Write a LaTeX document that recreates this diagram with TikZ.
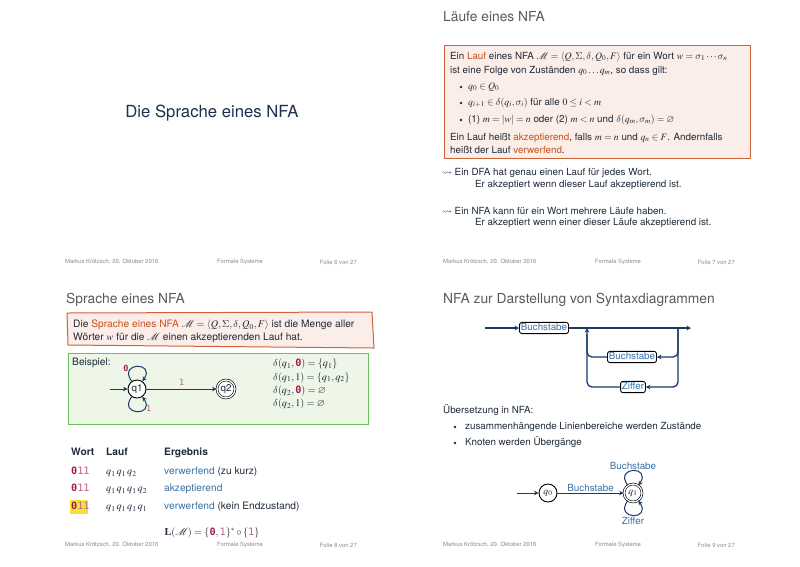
\documentclass[tikz,border=0pt]{standalone}
\usepackage{amsmath,amssymb}
\usepackage{mathptmx}
\usepackage{fontspec}
\setmainfont{TeX Gyre Heros}
\newfontfamily\codefont{DejaVu Sans Mono}
\usetikzlibrary{arrows.meta, positioning, calc}

\DeclareSymbolFont{cmletters}{OML}{cmm}{m}{it}
\DeclareSymbolFont{cmops}{OT1}{cmr}{m}{n}
\DeclareMathSymbol{\delta}{\mathord}{cmletters}{"0E}
\DeclareMathSymbol{\sigma}{\mathord}{cmletters}{"1B}
\DeclareMathSymbol{\Sigma}{\mathalpha}{cmops}{"06}

\definecolor{titlegray}{HTML}{5A5A5A}
\definecolor{navy}{HTML}{1B2F4F}
\definecolor{bodytxt}{HTML}{1E2A3A}
\definecolor{hlorange}{HTML}{C4511F}
\definecolor{boxred}{HTML}{D0623A}
\definecolor{boxfill}{HTML}{FBEDE7}
\definecolor{exgreen}{HTML}{6CBF5A}
\definecolor{exfill}{HTML}{EEF6E8}
\definecolor{linkblue}{HTML}{3A72A8}
\definecolor{symb}{HTML}{A0195A}
\definecolor{symblt}{HTML}{C06088}
\definecolor{footgray}{HTML}{8A8A8A}
\definecolor{lineblue}{HTML}{1A3A68}
\definecolor{marker}{HTML}{F2E33A}

\newcommand{\hlt}[1]{\textcolor{hlorange}{#1}}
\newcommand{\lnk}[1]{\textcolor{linkblue}{#1}}
\newcommand{\zsym}{\text{\codefont\bfseries\textcolor{symb}{0}}}
\newcommand{\osym}{\text{\codefont\textcolor{symblt}{1}}}
\newcommand{\wrd}{{\codefont\textcolor{symb}{\bfseries 0}\textcolor{symblt}{11}}}

\begin{document}
\begin{tikzpicture}[x=1pt, y=1pt,
    body/.style={anchor=west, inner sep=0pt, text=bodytxt, text height=7.3pt, text depth=2.3pt,
                 font=\fontsize{9.8}{12}\selectfont},
    bodyC/.style={body, text height=7.6pt, text depth=2.4pt, font=\fontsize{10.2}{12}\selectfont},
    ttl/.style={anchor=west, inner sep=0pt, text=titlegray, font=\fontsize{13.8}{16}\selectfont},
    foot/.style={inner sep=0pt, text=footgray, font=\fontsize{5.9}{7}\selectfont},
    lbl/.style={inner sep=1pt, text=linkblue, font=\fontsize{9.8}{12}\selectfont},
    sym/.style={inner sep=0pt, font=\fontsize{8.5}{9}\codefont, text=symblt},
    st/.style={circle, draw=black, line width=0.9pt, minimum size=18pt, inner sep=0pt, fill=white,
               text=bodytxt, font=\fontsize{9.8}{12}\selectfont},
    acc/.style={st, double=white, double distance=1.3pt, line width=0.6pt},
    arr/.style={-{Stealth[length=4.5pt, width=4.5pt]}, line width=1pt, lineblue},
    syn/.style={line width=1.3pt, lineblue, rounded corners=5pt},
    chip/.style={draw=black, line width=0.9pt, rounded corners=2.5pt, fill=white, text=linkblue,
                 inner sep=1.4pt, text height=7pt, text depth=1.5pt, font=\fontsize{9.8}{12}\selectfont},
  ]
  \useasboundingbox[fill=white] (0,0) rectangle (800,-566);

  \node[inner sep=0pt, text=navy, font=\fontsize{16.7}{20}\selectfont] (tA) at (212,-113) {Die Sprache eines NFA};
  \foreach \sx/\sy/\n in {0/262/6, 378/262/7, 0/545/8, 378/545/9}{
    \node[foot, anchor=west] (fa\n) at (65+\sx,-\sy) {Markus Krötzsch, 20. Oktober 2016};
    \node[foot] (fb\n) at (240+\sx,-\sy) {Formale Systeme};
    \node[foot, anchor=east] (fc\n) at (357+\sx,-\sy) {Folie \n\ von 27};
  }

  \node[ttl] (tB) at (443,-17) {Läufe eines NFA};
  \draw[boxred, fill=boxfill, line width=1pt] (444,-45) rectangle (750,-158);
  \node[body] (lB1) at (450,-57) {Ein \hlt{Lauf} eines NFA $\mathcal{M}=\langle Q,\Sigma,\delta,Q_0,F\rangle$ für ein Wort $w=\sigma_1\cdots\sigma_n$};
  \node[body] (lB2) at (450,-71) {ist eine Folge von Zuständen $q_0\ldots q_m$, so dass gilt:};
  \foreach \y/\t [count=\i] in {87/{$q_0\in Q_0$},
      103/{$q_{i+1}\in\delta(q_i,\sigma_i)$ für alle $0\le i<m$},
      120/{(1) $m=|w|=n$ oder (2) $m<n$ und $\delta(q_m,\sigma_m)=\varnothing$}}{
    \fill[bodytxt] (461,-\y) circle (1.4);
    \node[body] (iB\i) at (468,-\y) {\t};
  }
  \node[body] (lB3) at (450,-138) {Ein Lauf heißt \hlt{akzeptierend}, falls $m=n$ und $q_n\in F$. Andernfalls};
  \node[body] (lB4) at (450,-151) {heißt der Lauf \hlt{verwerfend}.};
  \node[body] (dB1) at (442,-173) {$\leadsto$ Ein DFA hat genau einen Lauf für jedes Wort.};
  \node[body] (dB2) at (475,-185) {Er akzeptiert wenn dieser Lauf akzeptierend ist.};
  \node[body] (dB3) at (442,-212) {$\leadsto$ Ein NFA kann für ein Wort mehrere Läufe haben.};
  \node[body] (dB4) at (475,-223) {Er akzeptiert wenn einer dieser Läufe akzeptierend ist.};

  \node[ttl] (tC) at (66,-300) {Sprache eines NFA};
  \draw[boxred, fill=boxfill, line width=1pt] (67,-313) -- (372,-312) -- (374,-348) -- (68,-345) -- cycle;
  \node[bodyC] (lC1) at (73,-325) {Die \hlt{Sprache eines NFA} $\mathcal{M}=\langle Q,\Sigma,\delta,Q_0,F\rangle$ ist die Menge aller};
  \node[bodyC] (lC2) at (73,-338) {Wörter $w$ für die $\mathcal{M}$ einen akzeptierenden Lauf hat.};
  \draw[exgreen, fill=exfill, line width=1pt] (68,-353) rectangle (368,-424);
  \node[bodyC] (bsp) at (72,-363) {Beispiel:};
  \coordinate (iC) at (110,-389);
  \node[st] (q1) at (137,-389) {q1};
  \node[acc] (q2) at (226,-389) {q2};
  \draw[arr] (iC) -- (q1);
  \draw[arr] (q1) -- (q2) node[sym, midway, above=3pt] {1};
  \draw[arr] (q1.125) .. controls +(125:24) and +(55:24) .. (q1.55)
    node[sym, pos=0.3, left=1.5pt, font=\fontsize{8.5}{9}\codefont\bfseries, text=symb] {0};
  \draw[arr] (q1.-125) .. controls +(-125:24) and +(-55:24) .. (q1.-55)
    node[sym, pos=0.72, right=1.5pt] {1};
  \foreach \y/\t [count=\i] in {364/{$\delta(q_1,\zsym)=\{q_1\}$}, 377.5/{$\delta(q_1,1)=\{q_1,q_2\}$},
      391/{$\delta(q_2,\zsym)=\varnothing$}, 404/{$\delta(q_2,1)=\varnothing$}}{
    \node[bodyC] (dl\i) at (273,-\y) {\t};
  }
  \node[bodyC, font=\fontsize{10.2}{12}\selectfont\bfseries] (hW) at (71,-453) {Wort};
  \node[bodyC, font=\fontsize{10.2}{12}\selectfont\bfseries] (hL) at (106,-453) {Lauf};
  \node[bodyC, font=\fontsize{10.2}{12}\selectfont\bfseries] (hE) at (164,-453) {Ergebnis};
  \fill[marker] (70,-500) rectangle (88,-514);
  \foreach \y/\r/\e [count=\i] in {472/{$q_1\,q_1\,q_2$}/{\lnk{verwerfend} (zu kurz)},
      489/{$q_1\,q_1\,q_1\,q_2$}/{\lnk{akzeptierend}},
      507/{$q_1\,q_1\,q_1\,q_1$}/{\lnk{verwerfend} (kein Endzustand)}}{
    \node[bodyC] (w\i) at (71,-\y) {\wrd};
    \node[bodyC] (r\i) at (106,-\y) {\r};
    \node[bodyC] (e\i) at (164,-\y) {\e};
  }
  \node[inner sep=0pt, text=bodytxt, font=\fontsize{10.2}{12}\selectfont] (lang) at (212,-533)
    {$\mathbf{L}(\mathcal{M})=\{\zsym,\osym\}^*\circ\{\osym\}$};

  \node[ttl] (tD) at (443,-300) {NFA zur Darstellung von Syntaxdiagrammen};
  \coordinate (sIn) at (485,-328);
  \coordinate (sOut) at (691,-328);
  \coordinate (jl) at (587,-328);
  \coordinate (jr) at (678,-328);
  \node[chip] (sb1) at (544,-328) {Buchstabe};
  \node[chip] (sb2) at (632,-357) {Buchstabe};
  \node[chip] (sz) at (633,-387) {Ziffer};
  \draw[syn, -{Stealth[length=4.5pt, width=4.5pt]}] (sIn) -- (sb1);
  \draw[syn, -{Stealth[length=4.5pt, width=4.5pt]}] (sb1) -- (sOut);
  \draw[syn, -{Stealth[length=4.5pt, width=4.5pt]}] (jr) -- (jr |- sz) -- (sz.east);
  \draw[syn, -{Stealth[length=4.5pt, width=4.5pt]}] (jr) -- (jr |- sb2) -- (sb2.east);
  \draw[syn] (sb2.west) -- (jl |- sb2) -- ($(jl)+(0,-6)$);
  \draw[syn, -{Stealth[length=4.5pt, width=4.5pt]}] (sz.west) -- (jl |- sz) -- (jl);

  \node[body] (ueb) at (443,-411) {Übersetzung in NFA:};
  \foreach \y/\t [count=\i] in {427/{zusammenhängende Linienbereiche werden Zustände}, 443/{Knoten werden Übergänge}}{
    \fill[bodytxt] (455,-\y) circle (1.4);
    \node[body] (iD\i) at (465,-\y) {\t};
  }
  \coordinate (iD) at (517,-493);
  \node[st] (p0) at (548,-493) {$q_0$};
  \node[acc] (p1) at (633,-493) {$q_1$};
  \draw[arr] (iD) -- (p0);
  \draw[arr] (p0) -- (p1) node[lbl, midway, above] {Buchstabe};
  \draw[arr] (p1.125) .. controls +(125:24) and +(55:24) .. (p1.55) node[lbl, pos=0.5, above] {Buchstabe};
  \draw[arr] (p1.-125) .. controls +(-125:24) and +(-55:24) .. (p1.-55) node[lbl, pos=0.5, below] {Ziffer};
\end{tikzpicture}
\end{document}
